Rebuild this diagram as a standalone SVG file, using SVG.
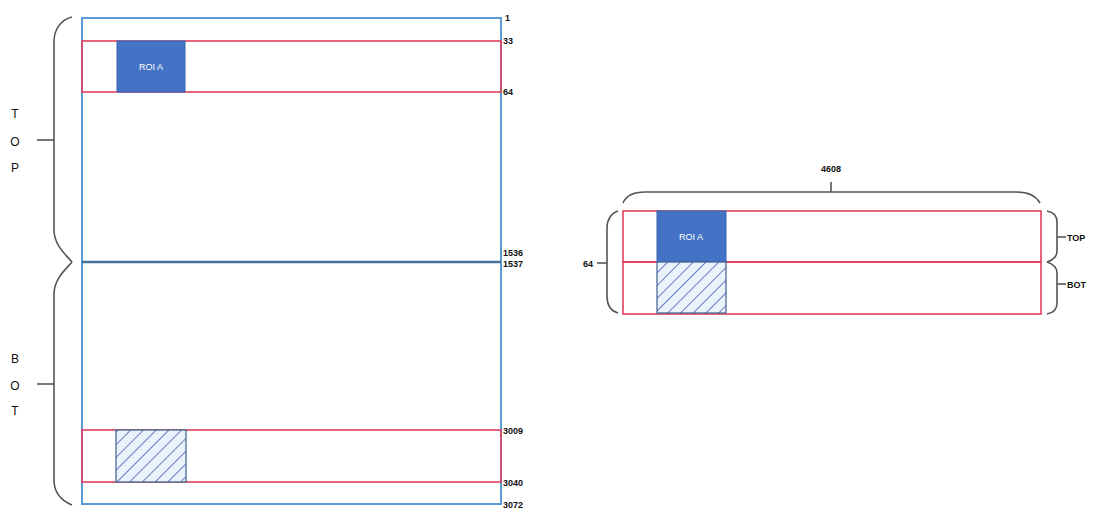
<svg xmlns="http://www.w3.org/2000/svg" width="1099" height="509" viewBox="0 0 1099 509">
<style>
.blue{fill:none;stroke:#5b9bd5;stroke-width:2}
.div{stroke:#41719c;stroke-width:2.5;fill:none}
.red{fill:none;stroke:#e0405a;stroke-width:1.6}
.roi{fill:#4472c4;stroke:#3b64b0;stroke-width:1}
.hatch{fill:url(#hp);stroke:#3d5f8f;stroke-width:1.2}
.brace{fill:none;stroke:#555;stroke-width:1.6}
.num{font-family:"Liberation Sans",Arial,sans-serif;font-size:9px;font-weight:bold;fill:#111}
.big{font-family:"Liberation Sans",Arial,sans-serif;font-size:12px;fill:#111;text-anchor:middle}
.roit{font-family:"Liberation Sans",Arial,sans-serif;font-size:9px;fill:#fff;text-anchor:middle}
</style>
<defs>
<pattern id="hp" patternUnits="userSpaceOnUse" width="9" height="9" patternTransform="rotate(45)">
<rect width="9" height="9" fill="#eaf3fb"/>
<line x1="0" y1="0" x2="0" y2="9" stroke="#4a5fb8" stroke-width="1.6"/>
</pattern>
</defs>
<g id="left-frame">
<rect class="blue" x="82" y="18" width="419" height="486"/>
<line class="div" x1="82" y1="262" x2="501" y2="262"/>
</g>
<g id="left-top-row">
<rect class="red" x="82" y="41" width="419" height="51"/>
<rect class="roi" x="117" y="41" width="68" height="51"/>
<text class="roit" x="151" y="70">ROI A</text>
</g>
<g id="left-bot-row">
<rect class="red" x="82" y="430" width="419" height="52"/>
<rect class="hatch" x="116" y="430" width="70" height="52"/>
</g>
<g id="left-labels">
<text class="num" x="505" y="21">1</text>
<text class="num" x="503" y="44">33</text>
<text class="num" x="503" y="95">64</text>
<text class="num" x="503" y="256">1536</text>
<text class="num" x="503" y="267">1537</text>
<text class="num" x="503" y="434">3009</text>
<text class="num" x="503" y="486">3040</text>
<text class="num" x="503" y="508">3072</text>
</g>
<g id="left-top-brace">
<path class="brace" d="M72,17 C60,20 54,30 54,42 L54,230 C54,245 66,255 72,262"/>
<line class="brace" x1="37" y1="140" x2="54" y2="140"/>
<text class="big" x="15" y="118">T</text>
<text class="big" x="15" y="146">O</text>
<text class="big" x="15" y="172">P</text>
</g>
<g id="left-bot-brace">
<path class="brace" d="M72,262 C66,269 54,279 54,294 L54,480 C54,492 60,500 72,505"/>
<line class="brace" x1="37" y1="384" x2="54" y2="384"/>
<text class="big" x="15" y="363">B</text>
<text class="big" x="15" y="390">O</text>
<text class="big" x="15" y="415">T</text>
</g>
<g id="right-rows">
<rect class="red" x="623" y="211" width="418" height="51"/>
<rect class="red" x="623" y="262" width="418" height="52"/>
<rect class="roi" x="657" y="211" width="69" height="51"/>
<text class="roit" x="691" y="240">ROI A</text>
<rect class="hatch" x="657" y="262" width="69" height="51"/>
</g>
<g id="right-braces">
<path class="brace" d="M623,203 C626,196 634,192 645,192 L1017,192 C1028,192 1036,196 1040,203"/>
<line class="brace" x1="831" y1="192" x2="831" y2="182"/>
<text class="num" x="831" y="172" text-anchor="middle">4608</text>
<path class="brace" d="M618,211 C611,213 607,220 607,228 L607,296 C607,305 611,311 618,313"/>
<line class="brace" x1="597" y1="263" x2="607" y2="263"/>
<text class="num" x="583" y="267">64</text>
<path class="brace" d="M1047,211 C1053,212 1057,216 1057,222 L1057,251 C1057,256 1053,260 1047,262"/>
<line class="brace" x1="1057" y1="237" x2="1066" y2="237"/>
<text class="num" x="1067" y="241">TOP</text>
<path class="brace" d="M1047,262 C1053,264 1057,268 1057,273 L1057,303 C1057,309 1053,313 1047,314"/>
<line class="brace" x1="1057" y1="284" x2="1066" y2="284"/>
<text class="num" x="1067" y="288">BOT</text>
</g>
</svg>
